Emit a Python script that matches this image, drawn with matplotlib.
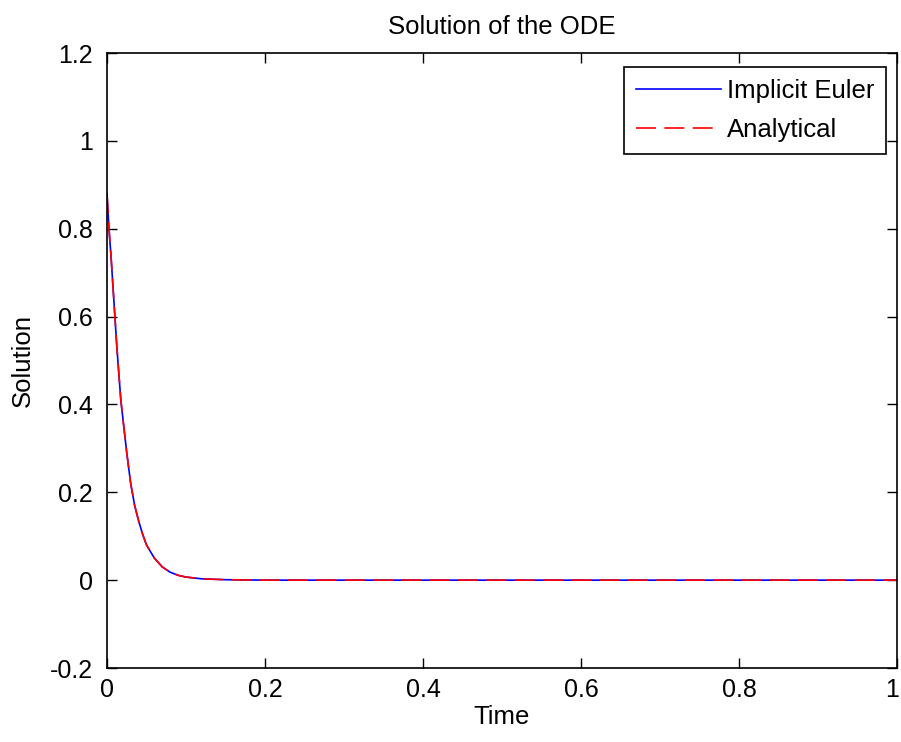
import matplotlib
matplotlib.use("Agg")
import matplotlib.pyplot as plt
import matplotlib.transforms as mtransforms
from matplotlib.ticker import FuncFormatter

plt.rcParams['font.family'] = ['Liberation Sans', 'DejaVu Sans']

# values (time, solution)
time = [0.0, 0.0025, 0.005, 0.0075, 0.01, 0.0125, 0.015, 0.0175, 0.02, 0.025,
        0.03, 0.035, 0.04, 0.045, 0.05, 0.06, 0.07, 0.08, 0.09, 0.10,
        0.11, 0.12, 0.15, 0.2, 0.3, 0.4, 0.5, 0.6, 0.7, 0.8, 0.9, 1.0]
implicit_euler = [0.88, 0.80, 0.74, 0.67, 0.60, 0.53, 0.47, 0.41, 0.37, 0.29,
                  0.22, 0.17, 0.135, 0.105, 0.08, 0.05, 0.03, 0.018, 0.011, 0.007,
                  0.005, 0.003, 0.001, 0.0, 0.0, 0.0, 0.0, 0.0, 0.0, 0.0, 0.0, 0.0]
analytical = [0.88, 0.80, 0.74, 0.67, 0.60, 0.53, 0.47, 0.41, 0.37, 0.29,
              0.22, 0.17, 0.135, 0.105, 0.08, 0.05, 0.03, 0.018, 0.011, 0.007,
              0.005, 0.003, 0.001, 0.0, 0.0, 0.0, 0.0, 0.0, 0.0, 0.0, 0.0, 0.0]

xticks = [0, 0.2, 0.4, 0.6, 0.8, 1]
yticks = [-0.2, 0, 0.2, 0.4, 0.6, 0.8, 1, 1.2]

fig = plt.figure(figsize=(9.01, 7.42), dpi=100)
ax = fig.add_axes([107 / 901, (742 - 668) / 742, 790 / 901, 615 / 742])

ax.plot(time, implicit_euler, color='#0000ff', lw=1.2, label='Implicit Euler')
ax.plot(time, analytical, color='#ff0000', lw=1.2, ls=(0, (12, 5)), label='Analytical')

ax.set_xlim(0, 1)
ax.set_ylim(-0.2, 1.2)
ax.set_xticks(xticks)
ax.set_yticks(yticks)
fmt = FuncFormatter(lambda v, p: ('%g' % round(v, 2)).replace('\u2212', '-'))
ax.xaxis.set_major_formatter(fmt)
ax.yaxis.set_major_formatter(fmt)
ax.tick_params(direction='in', top=True, right=True, length=7, width=1,
               labelsize=18)
ax.tick_params(axis='x', pad=7)
ax.tick_params(axis='y', pad=10)
for s in ax.spines.values():
    s.set_linewidth(1.2)

# keep the last x label ("1") inside the figure edge
last = ax.get_xticklabels()[-1]
last.set_transform(last.get_transform() +
                   mtransforms.ScaledTranslation(-5 / 100, 0, fig.dpi_scale_trans))

ax.set_title('Solution of the ODE', fontsize=18.5, pad=14)
ax.set_xlabel('Time', fontsize=18.5, labelpad=2)
ax.set_ylabel('Solution', fontsize=18.5, labelpad=11)

leg = ax.legend(loc='upper right', bbox_to_anchor=(0.986, 0.977), fontsize=18.5,
                handlelength=3.3, handletextpad=0.25, labelspacing=0.6,
                borderpad=0.45, borderaxespad=0, fancybox=False, framealpha=1)
leg.get_frame().set_edgecolor('black')
leg.get_frame().set_linewidth(1.2)

fig.savefig('out.png', dpi=100)
